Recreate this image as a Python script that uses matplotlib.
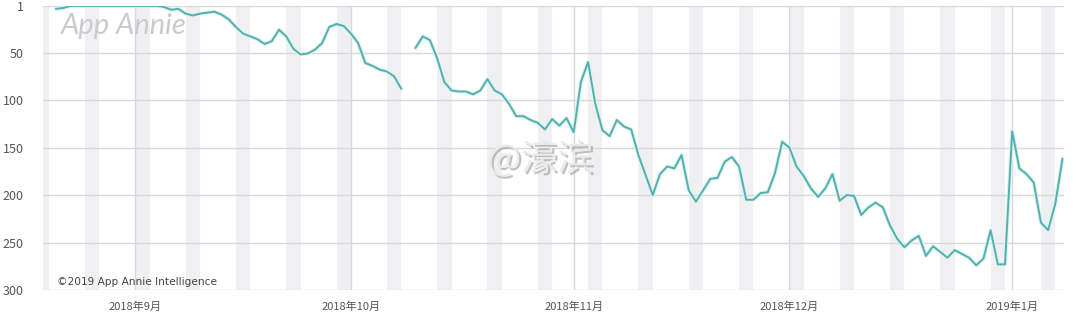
import numpy as np
import pandas as pd
import matplotlib
matplotlib.use("Agg")
import matplotlib.pyplot as plt
import matplotlib.patheffects as pe

plt.rcParams['font.family'] = ['Noto Sans CJK SC', 'DejaVu Sans']

# ---- data (daily rank, smaller = better) ----
start_date = "2018-08-21"
end_date = "2019-01-08"
rank_aug = [4, 3, 1, 1, 1, 1, 1, 1, 1, 1, 1]
rank_sep = [1, 1, 1, 1, 2, 5, 4, 9, 11, 9, 8, 7, 10, 15, 23, 30, 33, 36, 41, 38,
            26, 33, 46, 52, 51, 47, 40, 23, 20, 22]
rank_oct = [30, 40, 61, 64, 68, 70, 75, 88, np.nan, 45, 33, 37, 56, 81, 90, 91,
            91, 94, 90, 78, 90, 94, 104, 117, 117, 121, 124, 131, 120, 127, 119]
rank_nov = [134, 81, 60, 104, 132, 138, 121, 128, 131, 158, 179, 200, 178, 170,
            172, 158, 195, 207, 195, 183, 182, 165, 160, 170, 205, 205, 198, 197,
            177, 144]
rank_dec = [150, 170, 180, 193, 202, 193, 178, 206, 200, 201, 221, 213, 208, 213,
            232, 246, 255, 248, 243, 264, 254, 260, 266, 258, 262, 266, 274, 267,
            237, 273, 273]
rank_jan = [133, 172, 178, 187, 229, 237, 209, 162]

y_ticks = [1, 50, 100, 150, 200, 250, 300]
month_ticks = ["2018-09-01", "2018-10-01", "2018-11-01", "2018-12-01", "2019-01-01"]
month_labels = ["2018年9月", "2018年10月", "2018年11月", "2018年12月", "2019年1月"]
x_min = "2018-08-19 04:00"
x_max = "2019-01-08 05:00"

dates = pd.date_range(start_date, end_date, freq="D")
ranks = np.array(rank_aug + rank_sep + rank_oct + rank_nov + rank_dec + rank_jan, dtype=float)
assert len(dates) == len(ranks)

# ---- figure ----
fig = plt.figure(figsize=(10.76, 3.26), dpi=100)
ax = fig.add_axes([43 / 1076, 1 - 290 / 326, (1064 - 43) / 1076, (290 - 6) / 326])

xmin = pd.Timestamp(x_min)
xmax = pd.Timestamp(x_max)

# weekend bands (Sat & Sun)
d = pd.Timestamp("2018-08-18")
while d < xmax:
    ax.axvspan(d, d + pd.Timedelta(days=2), color="#f0f0f3", lw=0, zorder=0)
    d += pd.Timedelta(days=7)

grid_c = "#d8d8d8"
for t in y_ticks:
    ax.axhline(t, color=grid_c, lw=1, zorder=1)
for m in month_ticks:
    ax.axvline(pd.Timestamp(m), color=grid_c, lw=1, zorder=1)

ax.plot(dates, ranks, color="#55b0ad", lw=1.4, zorder=3,
        path_effects=[pe.Stroke(linewidth=3.0, foreground="#dcf4f3"), pe.Normal()])

ax.set_xlim(xmin, xmax)
ax.set_ylim(300, 1)
ax.set_yticks(y_ticks)
ax.set_yticklabels([str(t) for t in y_ticks])
ax.set_xticks([pd.Timestamp(m) for m in month_ticks])
ax.set_xticklabels(month_labels)
ax.tick_params(axis="both", length=0, colors="#555555")
ax.tick_params(axis="y", pad=14, labelsize=9)
ax.tick_params(axis="x", pad=8, labelsize=8)
for s in ax.spines.values():
    s.set_visible(False)

# watermarks / credits
ax.text(0.018, 0.975, "App Annie", transform=ax.transAxes, fontsize=21,
        family=["Lato", "DejaVu Sans"], style="italic", weight="normal",
        color="#cbcbcf", va="top", ha="left", zorder=2)
ax.text(0.435, 0.46, "@濠滨", transform=ax.transAxes, fontsize=26,
        color="#ebebeb", va="center", ha="left", zorder=2,
        path_effects=[pe.withSimplePatchShadow(offset=(1.5, -1.5), shadow_rgbFace="#999999", alpha=0.6)])
ax.text(0.0137, 0.028, "©2019 App Annie Intelligence", transform=ax.transAxes,
        fontsize=7.6, color="#444444", va="center", ha="left", zorder=4,
        family=["DejaVu Sans"])

fig.savefig("out.png", dpi=100, facecolor="white")
